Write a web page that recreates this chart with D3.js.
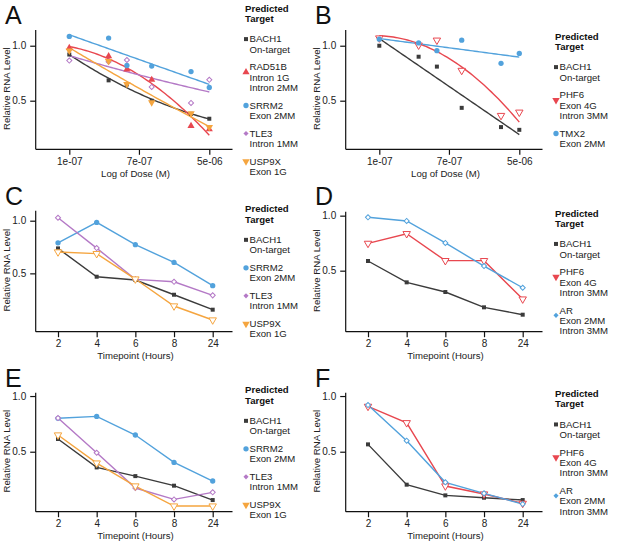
<!DOCTYPE html>
<html><head><meta charset="utf-8">
<script src="https://cdn.jsdelivr.net/npm/d3@7"></script>
<style>
body{margin:0;background:#fff}
svg{display:block;font-family:"Liberation Sans",Arial,Helvetica,sans-serif}
</style>
</head><body>
<svg id="chart" width="621" height="543"></svg>
<script>
// ---------- data ----------
const doses = [1e-7, 3e-7, 5e-7, 1e-6, 3e-6, 5e-6];
const doseTicks = [1e-7, 7e-7, 5e-6];
const timepoints = ["2", "4", "6", "8", "24"];
const yTicks = [0.5, 1.0];

const aBACH1  = [0.92, 0.685, 0.648, 0.50, 0.38, 0.336];
const aRAD51B = [0.98, 0.905, 0.785, 0.69, 0.27, 0.24];
const aSRRM2  = [1.085, 1.07, 0.82, 0.815, 0.765, 0.62];
const aTLE3   = [0.865, 0.855, 0.87, 0.625, 0.48, 0.69];
const aUSP9X  = [0.955, 0.86, 0.65, 0.485, 0.385, 0.26];

const bBACH1 = [1.0, 0.9, 0.81, 0.435, 0.26, 0.235];
const bPHF6  = [1.07, 1.005, 1.05, 0.775, 0.365, 0.395];
const bTMX2  = [1.06, 1.025, 0.955, 1.05, 0.84, 0.93];

const cBACH1 = [0.737, 0.468, 0.437, 0.297, 0.155];
const cSRRM2 = [0.79, 0.984, 0.772, 0.604, 0.383];
const cTLE3  = [1.028, 0.74, 0.443, 0.42, 0.291];
const cUSP9X = [0.703, 0.687, 0.446, 0.19, 0.057];

const dBACH1 = [0.588, 0.394, 0.306, 0.167, 0.1];
const dPHF6  = [0.748, 0.836, 0.591, 0.591, 0.242];
const dAR    = [0.985, 0.952, 0.752, 0.542, 0.345];

const eBACH1 = [0.614, 0.359, 0.281, 0.195, 0.066];
const eSRRM2 = [0.8, 0.817, 0.65, 0.404, 0.237];
const eTLE3  = [0.802, 0.491, 0.174, 0.072, 0.135];
const eUSP9X = [0.65, 0.398, 0.192, 0.012, 0.012];

const fBACH1 = [0.566, 0.204, 0.108, 0.087, 0.066];
const fPHF6  = [0.907, 0.76, 0.192, 0.12, 0.036];
const fAR    = [0.919, 0.599, 0.225, 0.126, 0.03];

const legendLabels = {
  BACH1: ["BACH1", "On-target"],
  RAD51B: ["RAD51B", "Intron 1G", "Intron 2MM"],
  SRRM2: ["SRRM2", "Exon 2MM"],
  TLE3: ["TLE3", "Intron 1MM"],
  USP9X: ["USP9X", "Exon 1G"],
  PHF6: ["PHF6", "Exon 4G", "Intron 3MM"],
  TMX2: ["TMX2", "Exon 2MM"],
  AR: ["AR", "Exon 2MM", "Intron 3MM"]
};

// ---------- styles ----------
const styles = {
  BACH1:  {color: "#3b3b3b", sym: "square", open: false},
  RAD51B: {color: "#e8474f", sym: "tri", open: false},
  SRRM2:  {color: "#52a2dc", sym: "circle", open: false},
  TLE3:   {color: "#b479c6", sym: "diamond", open: true},
  USP9X:  {color: "#f5a53f", sym: "triDown", open: true},
  PHF6:   {color: "#e8474f", sym: "triDown", open: true},
  TMX2:   {color: "#52a2dc", sym: "circle", open: false},
  AR:     {color: "#52a2dc", sym: "diamond", open: true}
};

const panels = [
  {id: "A", ox: 0, oy: 0, kind: "dose", series: {BACH1: aBACH1, RAD51B: aRAD51B, SRRM2: aSRRM2, TLE3: aTLE3, USP9X: aUSP9X},
   fitDeg: {BACH1: 2, RAD51B: 2, SRRM2: 1, TLE3: 2, USP9X: 2},
   yDomain: [0.058, 1.143], yRange: [149.3, 30], letterY: 24},
  {id: "B", ox: 310, oy: 0, kind: "dose", series: {BACH1: bBACH1, PHF6: bPHF6, TMX2: bTMX2},
   fitDeg: {BACH1: 1, PHF6: 2, TMX2: 1},
   yDomain: [0.058, 1.143], yRange: [149.3, 30], letterY: 24},
  {id: "C", ox: 0, oy: 180, kind: "time", series: {BACH1: cBACH1, SRRM2: cSRRM2, TLE3: cTLE3, USP9X: cUSP9X},
   yDomain: [-0.054, 1.095], yRange: [151.7, 30.7], letterY: 25},
  {id: "D", ox: 310, oy: 180, kind: "time", series: {BACH1: dBACH1, PHF6: dPHF6, AR: dAR},
   yDomain: [-0.0545, 1.036], yRange: [151.7, 31.7], letterY: 25},
  {id: "E", ox: 0, oy: 360, kind: "time", series: {BACH1: eBACH1, SRRM2: eSRRM2, TLE3: eTLE3, USP9X: eUSP9X},
   yDomain: [-0.0386, 1.03], yRange: [151.7, 32.7], letterY: 26.5},
  {id: "F", ox: 310, oy: 360, kind: "time", series: {BACH1: fBACH1, PHF6: fPHF6, AR: fAR},
   yDomain: [-0.0386, 1.03], yRange: [151.7, 32.7], letterY: 26.5}
];

const svg = d3.select("#chart");
const AX_L = 35.7, AX_R = 232.5;

function symbolPath(kind) {
  switch (kind) {
    case "square": return d3.symbol().type(d3.symbolSquare).size(16)();
    case "circle": return d3.symbol().type(d3.symbolCircle).size(22)();
    case "tri": return d3.symbol().type(d3.symbolTriangle).size(22)();
    case "triDown": return d3.symbol().type(d3.symbolTriangle).size(24)();
    case "diamond": return d3.symbol().type(d3.symbolSquare).size(13)();
  }
}
function symbolRotate(kind) {
  if (kind === "triDown") return 180;
  if (kind === "diamond") return 45;
  return 0;
}
function drawMarker(g, name, x, y, forceFill) {
  const st = styles[name];
  const open = st.open && !forceFill;
  g.append("path")
    .attr("d", symbolPath(st.sym))
    .attr("transform", `translate(${x},${y}) rotate(${symbolRotate(st.sym)})`)
    .attr("fill", open ? "#fff" : st.color)
    .attr("stroke", open ? st.color : "none")
    .attr("stroke-width", 1);
}

// least-squares polynomial fit (degree 1 or 2)
function polyFit(us, ys, deg) {
  const n = deg + 1;
  const M = [];
  for (let r = 0; r < n; r++) {
    M.push([]);
    for (let c = 0; c < n; c++) M[r].push(d3.sum(us, u => Math.pow(u, r + c)));
    M[r].push(d3.sum(us, (u, i) => ys[i] * Math.pow(u, r)));
  }
  for (let c = 0; c < n; c++) {
    let p = c;
    for (let r = c + 1; r < n; r++) if (Math.abs(M[r][c]) > Math.abs(M[p][c])) p = r;
    [M[c], M[p]] = [M[p], M[c]];
    for (let r = 0; r < n; r++) {
      if (r === c) continue;
      const f = M[r][c] / M[c][c];
      for (let k = c; k <= n; k++) M[r][k] -= f * M[c][k];
    }
  }
  return M.map((row, i) => row[n] / row[i]);
}

panels.forEach(p => {
  const g = svg.append("g").attr("transform", `translate(${p.ox},${p.oy})`);
  const y = d3.scaleLinear().domain(p.yDomain).range(p.yRange);
  const yBottom = p.yRange[0], yTop = p.yRange[1];
  let x, xAxis;
  if (p.kind === "dose") {
    x = d3.scaleLog().domain([1e-7, 5e-6]).range([69.3, 209.3]);
    xAxis = d3.axisBottom(x).tickValues(doseTicks)
      .tickFormat(v => v.toExponential(0).replace(/e-(\d)$/, "e-0$1"));
  } else {
    x = d3.scalePoint().domain(timepoints).range([58, 212.7]);
    xAxis = d3.axisBottom(x);
  }
  xAxis.tickSize(5.5).tickPadding(3.2).tickSizeOuter(0);

  // axes
  const gx = g.append("g").attr("transform", `translate(0,${yBottom})`).call(xAxis);
  gx.select(".domain").attr("d", `M${AX_L},0H${AX_R}`);
  const gy = g.append("g").attr("transform", `translate(${AX_L},0)`)
    .call(d3.axisLeft(y).tickValues(yTicks).tickFormat(d3.format(".1f")).tickSize(5.5).tickPadding(4).tickSizeOuter(0));
  gy.select(".domain").attr("d", `M0,${yTop}V${yBottom}`);
  [gx, gy].forEach(a => {
    a.selectAll(".domain").attr("stroke", "#111").attr("stroke-width", 1.2);
    a.selectAll(".tick line").attr("stroke", "#111").attr("stroke-width", 1.2);
    a.selectAll(".tick text").attr("font-size", 10).attr("fill", "#222")
      .attr("font-family", '"Liberation Sans",Arial,sans-serif');
  });

  // axis titles
  g.append("text").attr("x", 135.5).attr("y", yBottom + 27.6).attr("text-anchor", "middle")
    .attr("font-size", 9.6).attr("fill", "#222")
    .text(p.kind === "dose" ? "Log of Dose (M)" : "Timepoint (Hours)");
  g.append("text").attr("transform", `translate(10,${(yTop + yBottom) / 2 - 1}) rotate(-90)`)
    .attr("text-anchor", "middle").attr("font-size", 9.6).attr("fill", "#222")
    .text("Relative RNA Level");

  // panel letter
  g.append("text").attr("x", 5).attr("y", p.letterY).attr("font-size", 25).attr("fill", "#111").text(p.id);

  // series
  const names = Object.keys(p.series);
  names.forEach(name => {
    const vals = p.series[name];
    const st = styles[name];
    if (p.kind === "dose") {
      const us = doses.map(d => Math.log10(d) + 6);
      const c = polyFit(us, vals, p.fitDeg[name]);
      const lo = Math.log10(1e-7), hi = Math.log10(5e-6);
      const pts = d3.range(0, 61).map(i => {
        const l = lo + (hi - lo) * i / 60, u = l + 6;
        const v = c.reduce((s, ci, k) => s + ci * Math.pow(u, k), 0);
        return [x(Math.pow(10, l)), y(v)];
      });
      g.append("path").attr("d", d3.line()(pts)).attr("fill", "none")
        .attr("stroke", st.color).attr("stroke-width", 1.4);
    } else {
      g.append("path").datum(vals)
        .attr("d", d3.line().x((d, i) => x(timepoints[i])).y(d => y(d)))
        .attr("fill", "none").attr("stroke", st.color).attr("stroke-width", 1.4);
    }
  });
  names.forEach(name => {
    const vals = p.series[name];
    vals.forEach((v, i) => {
      const xv = p.kind === "dose" ? x(doses[i]) : x(timepoints[i]);
      drawMarker(g, name, xv, y(v), p.kind === "dose" && name === "USP9X");
    });
  });

  // legend
  const LH = 10.4, GAP = 7.2;
  let offs = [], cur = 30.6;
  names.forEach(n => { offs.push(cur); cur += legendLabels[n].length * LH + GAP; });
  const lastLine = offs[offs.length - 1] + (legendLabels[names[names.length - 1]].length - 1) * LH;
  const center = (yTop + yBottom) / 2;
  const T = center - (lastLine - 7.5) / 2;
  const lg = g.append("g");
  lg.append("text").attr("x", 245).attr("y", T).attr("font-size", 9.6).attr("font-weight", "bold").attr("fill", "#111").text("Predicted");
  lg.append("text").attr("x", 245).attr("y", T + LH).attr("font-size", 9.6).attr("font-weight", "bold").attr("fill", "#111").text("Target");
  names.forEach((n, k) => {
    const base = T + offs[k];
    const lines = legendLabels[n];
    lines.forEach((t, j) => {
      lg.append("text").attr("x", 249.5).attr("y", base + j * LH).attr("font-size", 9.6).attr("fill", "#222").text(t);
    });
    const my = base - 3.2 + (lines.length === 3 ? 5 : 0);
    drawMarker(lg, n, 246, my, true);
  });
});
</script>
</body></html>
